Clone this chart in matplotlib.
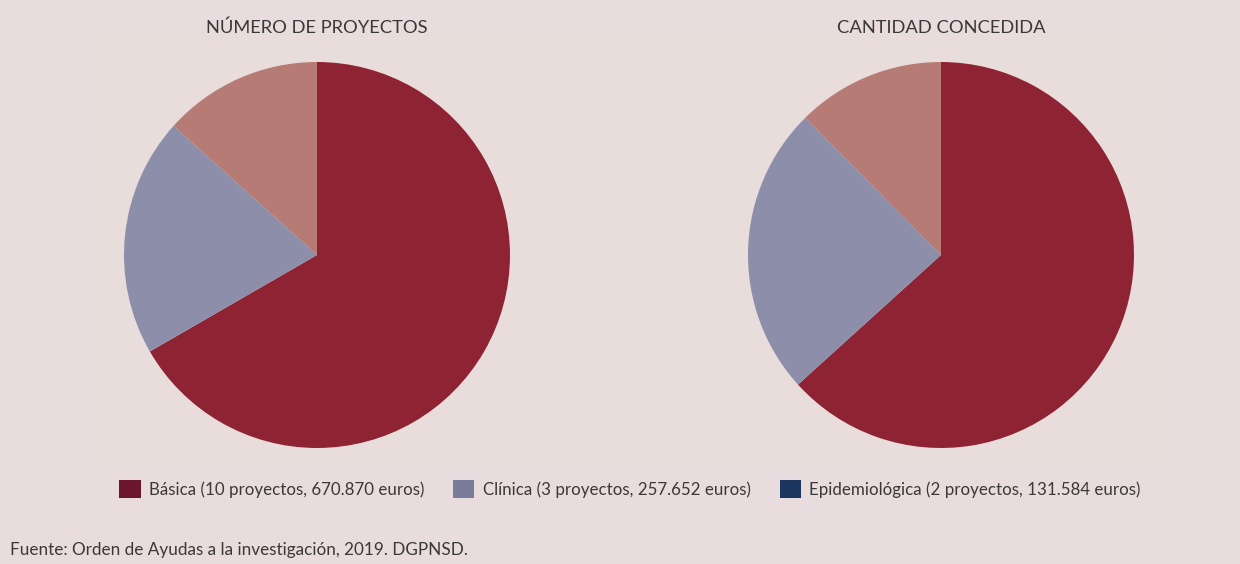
import matplotlib.pyplot as plt
from matplotlib.patches import Patch, Rectangle

plt.rcParams['font.family'] = ['Lato', 'DejaVu Sans']

# data
categories = ['Básica', 'Clínica', 'Epidemiológica']
num_proyectos = [10, 3, 2]
cantidad = [670870, 257652, 131584]
legend_labels = ['Básica (10 proyectos, 670.870 euros)',
                 'Clínica (3 proyectos, 257.652 euros)',
                 'Epidemiológica (2 proyectos, 131.584 euros)']
titles = ['NÚMERO DE PROYECTOS', 'CANTIDAD CONCEDIDA']

pie_colors = ['#8e2433', '#8d8ea9', '#b57b74']
legend_colors = ['#6b1530', '#7a7d99', '#1b355e']
bg = '#e9dcdf'
txt = '#3b3838'

fig = plt.figure(figsize=(12.4, 5.64), dpi=100)
fig.patch.set_facecolor(bg)

W, H = 1240, 564

# faint inner panel
fig.patches.append(Rectangle((89 / W, 1 - 470 / H), (1172 - 89) / W, (470 - 28) / H,
                             transform=fig.transFigure, facecolor='#e9dddc',
                             edgecolor='none', zorder=-5))

r = 193
for cx, vals, title in [(317, num_proyectos, titles[0]), (941, cantidad, titles[1])]:
    ax = fig.add_axes([(cx - r) / W, (H - 255 - r) / H, 2 * r / W, 2 * r / H])
    ax.pie(vals, colors=pie_colors, startangle=90, counterclock=False,
           radius=1, wedgeprops=dict(linewidth=0))
    ax.set_xlim(-1, 1)
    ax.set_ylim(-1, 1)
    ax.set_facecolor('none')
    ax.axis('off')
    fig.text(cx / W, 1 - 28 / H, title, ha='center', va='center',
             fontsize=13.2, color=txt)

handles = [Patch(facecolor=c, edgecolor='none') for c in legend_colors]
fig.legend(handles, legend_labels, loc='center', bbox_to_anchor=(630 / W, 1 - 489 / H),
           ncol=3, frameon=False, fontsize=12.2, labelcolor=txt,
           handlelength=1.25, handleheight=1.25, handletextpad=0.5, columnspacing=1.7)

fig.text(10 / W, 1 - 550 / H, 'Fuente: Orden de Ayudas a la investigación, 2019. DGPNSD.',
         ha='left', va='center', fontsize=12.3, color=txt)

fig.savefig('out.png', dpi=100, facecolor=bg)
